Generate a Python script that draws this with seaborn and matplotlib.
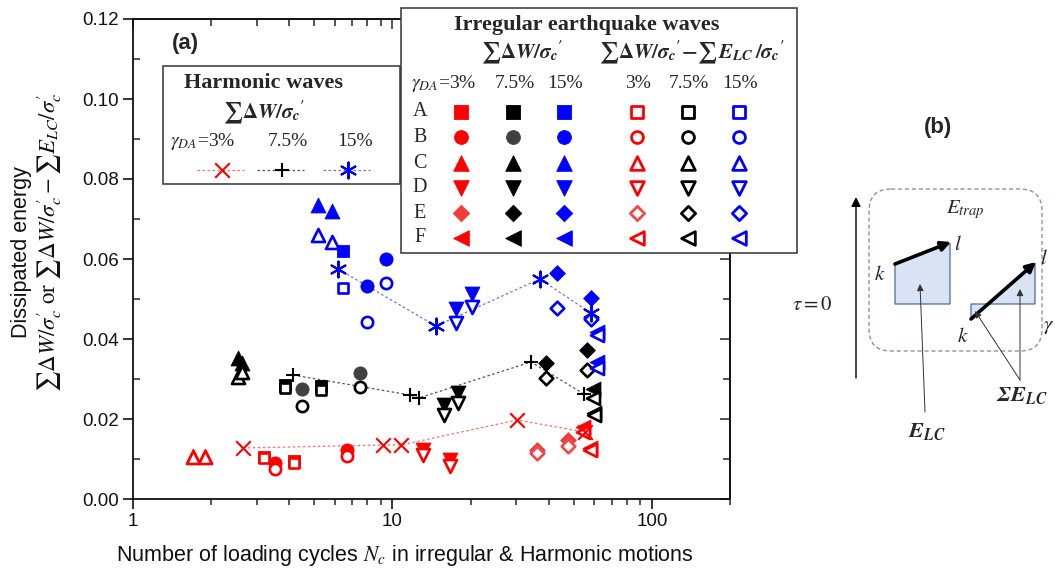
import numpy as np
import pandas as pd
import seaborn as sns
import matplotlib
matplotlib.use("Agg")
import matplotlib.pyplot as plt
from matplotlib.patches import Rectangle, FancyBboxPatch, Polygon
from matplotlib.ticker import (MultipleLocator, LogLocator, FuncFormatter,
                               FormatStrFormatter, NullFormatter)

# ---------------- data ----------------
# Harmonic waves (sum dW / sigma_c')
harm_N_3 = [2.65, 9.19, 10.8, 30.2, 55.2]
harm_E_3 = [0.01275, 0.0135, 0.0135, 0.01975, 0.01675]
harm_N_75 = [4.14, 11.7, 12.65, 34.2, 54.7]
harm_E_75 = [0.031, 0.026, 0.02525, 0.03425, 0.02625]
harm_N_15 = [6.17, 14.7, 37.0, 58.2]
harm_E_15 = [0.0575, 0.04325, 0.055, 0.0465]

# Irregular earthquake waves: total = sum dW/sc', net = sum dW/sc' - sum E_LC/sc'
irr3_wave = ["A", "A", "B", "B", "C", "C", "D", "D", "E", "E", "F", "F"]
irr3_N = [3.2, 4.17, 3.53, 6.68, 1.70, 1.89, 13.1, 16.7, 36.0, 47.5, 54.3, 57.7]
irr3_total = [0.0106, 0.0094, 0.0090, 0.01225, 0.0108, 0.0108, 0.01225, 0.0098,
              0.0123, 0.0148, 0.0180, 0.0128]
irr3_net = [0.01025, 0.0090, 0.0075, 0.01075, 0.0104, 0.0104, 0.0110, 0.00825,
            0.0115, 0.01325, 0.01675, 0.01225]

irr75_wave = ["A", "A", "B", "B", "C", "C", "D", "D", "E", "E", "F", "F"]
irr75_N = [3.85, 5.3, 4.48, 7.5, 2.55, 2.64, 15.8, 17.9, 39.0, 56.0, 59.5, 60.0]
irr75_total = [0.0285, 0.02825, 0.0275, 0.0315, 0.03525, 0.0340, 0.0235, 0.0265,
               0.0340, 0.0373, 0.0275, 0.0215]
irr75_net = [0.02775, 0.02725, 0.02325, 0.0280, 0.0305, 0.03175, 0.0210, 0.0240,
             0.03025, 0.0323, 0.0253, 0.0211]

irr15_wave = ["A", "B", "B", "C", "C", "D", "D", "E", "E", "F", "F"]
irr15_N = [6.45, 7.95, 9.44, 5.16, 5.85, 17.6, 20.2, 43.0, 58.0, 61.4, 61.4]
irr15_total = [0.0620, 0.05325, 0.0600, 0.0735, 0.0720, 0.0475, 0.05125, 0.0565,
               0.05025, 0.0418, 0.0343]
irr15_net = [0.05275, 0.04425, 0.0540, 0.0660, 0.06425, 0.0440, 0.0480, 0.04775,
             0.0450, 0.0410, 0.0328]

wave_names = ["A", "B", "C", "D", "E", "F"]
strain_labels = [r"$\gamma_{DA}$=3%", "7.5%", "15%"]
x_ticks = [1, 10, 100]

# ---------------- style ----------------
sns.set_theme(style="ticks")
plt.rcParams["font.family"] = ["Liberation Sans", "DejaVu Sans"]
plt.rcParams["mathtext.fontset"] = "stix"
plt.rcParams["axes.linewidth"] = 1.3

RED, BLACK, BLUE = "#ff0000", "#000000", "#0000ff"
fill_col = {
    "3": dict(A=RED, B=RED, C=RED, D=RED, E="#f03c3c", F=RED),
    "75": dict(A=BLACK, B="#404040", C=BLACK, D=BLACK, E=BLACK, F=BLACK),
    "15": dict(A=BLUE, B=BLUE, C=BLUE, D=BLUE, E=BLUE, F=BLUE),
}
open_col = {
    "3": dict(A=RED, B=RED, C=RED, D=RED, E="#f04848", F=RED),
    "75": dict(A=BLACK, B=BLACK, C=BLACK, D=BLACK, E=BLACK, F=BLACK),
    "15": dict(A=BLUE, B=BLUE, C=BLUE, D=BLUE, E=BLUE, F=BLUE),
}
marker_map = dict(A="s", B="o", C="^", D="v", E="D", F="<")
size_fill = dict(A=85, B=90, C=115, D=115, E=64, F=115)
size_open = dict(A=60, B=66, C=88, D=88, E=48, F=88)

W, H = 1055, 574
fig = plt.figure(figsize=(W / 100, H / 100), dpi=100)
ax = fig.add_axes([133 / W, 75 / H, 597 / W, 480 / H])
ax.set_xscale("log")

# ---------------- harmonic lines ----------------
harm = [(harm_N_3, harm_E_3, "#ff6a6a", RED, "x", 110),
        (harm_N_75, harm_E_75, "#555555", BLACK, "+", 105),
        (harm_N_15, harm_E_15, "#6a6aff", BLUE, (6, 2, 0), 130)]
for xs, ys, lc, mc, mk, ms in harm:
    sns.lineplot(x=xs, y=ys, color=lc, linestyle=(0, (2, 2)), linewidth=0.9,
                 errorbar=None, sort=False, ax=ax, zorder=2)

# ---------------- irregular points ----------------
groups = [("3", irr3_wave, irr3_N, irr3_total, irr3_net),
          ("75", irr75_wave, irr75_N, irr75_total, irr75_net),
          ("15", irr15_wave, irr15_N, irr15_total, irr15_net)]
for key, wv, n, tot, net in groups:
    df = pd.DataFrame({"wave": wv, "N": n, "total": tot, "net": net})
    for w in wave_names:
        sub = df[df["wave"] == w]
        if sub.empty:
            continue
        c = fill_col[key][w]
        sns.scatterplot(data=sub, x="N", y="total", marker=marker_map[w],
                        s=size_fill[w], color=c, edgecolor=c, linewidth=0.6,
                        ax=ax, zorder=3)
for key, wv, n, tot, net in groups:
    df = pd.DataFrame({"wave": wv, "N": n, "total": tot, "net": net})
    for w in wave_names:
        sub = df[df["wave"] == w]
        if sub.empty:
            continue
        c = open_col[key][w]
        sns.scatterplot(data=sub, x="N", y="net", marker=marker_map[w],
                        s=size_open[w], facecolor="white", edgecolor=c,
                        linewidth=1.9, ax=ax, zorder=4)

for xs, ys, lc, mc, mk, ms in harm:
    sns.scatterplot(x=xs, y=ys, marker=mk, s=ms, color=mc, linewidth=1.5,
                    ax=ax, zorder=5)

# ---------------- axes ----------------
ax.set_xlim(1, 200)
ax.set_ylim(0, 0.12)
ax.set_xlabel("")
ax.set_ylabel("")
ax.xaxis.set_major_locator(LogLocator(base=10, subs=(1.0,)))
ax.xaxis.set_minor_locator(LogLocator(base=10, subs=np.arange(2, 10)))
ax.xaxis.set_major_formatter(FuncFormatter(lambda v, p: f"{v:g}"))
ax.xaxis.set_minor_formatter(NullFormatter())
ax.yaxis.set_major_locator(MultipleLocator(0.02))
ax.yaxis.set_minor_locator(MultipleLocator(0.01))
ax.yaxis.set_major_formatter(FormatStrFormatter("%.2f"))
ax.tick_params(which="major", direction="out", length=7, width=1.2,
               labelsize=13.5, pad=3, colors="#111111")
ax.tick_params(axis="y", which="minor", direction="in", length=5, width=1.1)
ax.tick_params(axis="x", which="minor", direction="out", length=4, width=1.1)
for s in ax.spines.values():
    s.set_color("#111111")

axt = ax.secondary_xaxis("top")
axt.xaxis.set_major_locator(LogLocator(base=10, subs=(1.0,)))
axt.xaxis.set_minor_locator(LogLocator(base=10, subs=np.arange(2, 10)))
axt.tick_params(which="both", direction="in", labeltop=False, width=1.1)
axt.tick_params(which="major", length=7)
axt.tick_params(which="minor", length=5)
axr = ax.secondary_yaxis("right")
axr.yaxis.set_major_locator(MultipleLocator(0.02))
axr.yaxis.set_minor_locator(MultipleLocator(0.01))
axr.tick_params(which="both", direction="in", labelright=False, width=1.1)
axr.tick_params(which="major", length=7)
axr.tick_params(which="minor", length=5)

fig.text(405 / W, 1 - 556 / H,
         r"Number of loading cycles $N_c$ in irregular & Harmonic motions",
         ha="center", va="center", fontsize=15.5, color="#111111")
fig.text(22 / W, 1 - 252 / H, "Dissipated energy", rotation=90,
         ha="center", va="center", fontsize=15.5, color="#111111")
fig.text(49 / W, 1 - 242 / H,
         r"$\sum\Delta W/\sigma_c'$ or $\sum\Delta W/\sigma_c' - \sum E_{LC}/\sigma_c'$",
         rotation=90, ha="center", va="center", fontsize=16.5,
         family="STIXGeneral", color="#111111")

# ---------------- overlay (legends + panel b) ----------------
ov = fig.add_axes([0, 0, 1, 1], zorder=10)
ov.set_xlim(0, W)
ov.set_ylim(H, 0)
ov.axis("off")
ov.patch.set_alpha(0)

ov.text(185, 43, "(a)", fontsize=16, fontweight="bold", ha="center", va="center")

SERIF = "Liberation Serif"
# Harmonic legend
ov.add_patch(Rectangle((163, 66), 237, 118, fc="white", ec="#333333", lw=1.1))
ov.text(264, 83, "Harmonic waves", family=SERIF, fontweight="bold",
        fontsize=16, ha="center", va="center")
ov.text(264, 112, r"$\mathbf{\sum\Delta}\mathbfit{W}\mathbf{/}\boldsymbol{\sigma}_\mathbfit{c}\mathbf{'}$",
        fontsize=15, ha="center", va="center")
h_cols = [203, 288, 355]
h_mk = [222, 282, 348]
for i, (xs, ys, lc, mc, mk, ms) in enumerate(harm):
    ov.text(h_cols[i], 142, strain_labels[i], family=SERIF, fontsize=14,
            ha="center", va="center")
    ov.plot([h_mk[i] - 25, h_mk[i] + 22], [170, 170], color=lc,
            linestyle=(0, (2, 2)), lw=0.9)
    ov.scatter([h_mk[i]], [170], marker=mk, s=ms, color=mc, linewidths=1.5,
               zorder=3)

# Irregular legend
ov.add_patch(Rectangle((401, 8), 396, 245, fc="white", ec="#333333", lw=1.1))
ov.text(587, 25, "Irregular earthquake waves", family=SERIF, fontweight="bold",
        fontsize=16, ha="center", va="center")
ov.text(522, 52, r"$\mathbf{\sum\Delta}\mathbfit{W}\mathbf{/}\boldsymbol{\sigma}_\mathbfit{c}\mathbf{'}$",
        fontsize=15, ha="center", va="center")
ov.text(692, 52,
        r"$\mathbf{\sum\Delta}\mathbfit{W}\mathbf{/}\boldsymbol{\sigma}_\mathbfit{c}\mathbf{'} \mathbf{-} \mathbf{\sum}\,\mathbfit{E}_\mathbfit{LC}\,\mathbf{/}\boldsymbol{\sigma}_\mathbfit{c}\mathbf{'}$",
        fontsize=15, ha="center", va="center")
col_head_x = [444, 515, 565, 638, 689, 740]
col_head_t = [r"$\gamma_{DA}$=3%", "7.5%", "15%", "3%", "7.5%", "15%"]
for x, t in zip(col_head_x, col_head_t):
    ov.text(x, 83, t, family=SERIF, fontsize=14, ha="center", va="center")
mk_cols = [461, 513, 564, 637, 688, 739]
row_y = [112, 137, 163, 188, 213, 238]
keys = ["3", "75", "15"]
for r, w in enumerate(wave_names):
    ov.text(420, row_y[r], w, family=SERIF, fontsize=14.5, ha="center",
            va="center")
    for j, k in enumerate(keys):
        c = fill_col[k][w]
        ov.scatter([mk_cols[j]], [row_y[r]], marker=marker_map[w],
                   s=size_fill[w] * 1.1, color=c, edgecolors=c, linewidths=0.6)
        c2 = open_col[k][w]
        ov.scatter([mk_cols[j + 3]], [row_y[r]], marker=marker_map[w],
                   s=size_open[w] * 1.1, facecolors="white", edgecolors=c2,
                   linewidths=2.0)

# Panel (b)
ov.text(938, 128, "(b)", fontsize=16, fontweight="bold", ha="center", va="center")
ov.add_patch(FancyBboxPatch((869, 189), 173, 162,
                            boxstyle="round,pad=0,rounding_size=22",
                            fc="none", ec="#8497b0", lw=1.0, ls=(0, (3, 2))))
ov.add_patch(Polygon([(895, 304), (895, 264), (950, 243), (950, 304)],
                     closed=True, fc="#dae3f3", ec="#4a6aa0", lw=0.9))
ov.add_patch(Polygon([(971, 304), (971, 319), (989, 304)],
                     closed=True, fc="#dae3f3", ec="#4a6aa0", lw=0.9))
ov.add_patch(Polygon([(989, 304), (1035, 263), (1035, 304)],
                     closed=True, fc="#dae3f3", ec="#4a6aa0", lw=0.9))
ov.annotate("", xy=(856, 197), xytext=(856, 378),
            arrowprops=dict(arrowstyle="-|>", lw=1.0, color="black",
                            mutation_scale=14, shrinkA=0, shrinkB=0))
ov.annotate("", xy=(1058, 304), xytext=(850, 304),
            arrowprops=dict(arrowstyle="-|>", lw=1.0, color="black",
                            mutation_scale=14, shrinkA=0, shrinkB=0))
ov.annotate("", xy=(951, 242), xytext=(895, 264),
            arrowprops=dict(arrowstyle="-|>", lw=2.6, color="black",
                            mutation_scale=14, shrinkA=0, shrinkB=0))
ov.annotate("", xy=(1036, 262), xytext=(971, 319),
            arrowprops=dict(arrowstyle="-|>", lw=2.6, color="black",
                            mutation_scale=14, shrinkA=0, shrinkB=0))
ov.text(812, 304, r"$\tau = 0$", fontsize=15, ha="center", va="center")
ov.text(1043, 326, r"$\gamma$", fontsize=15, ha="left", va="center")
ov.text(965, 210, r"$E_{trap}$", fontsize=15, ha="center", va="center")
ov.text(880, 274, r"$k$", fontsize=15, ha="center", va="center")
ov.text(958, 244, r"$l$", fontsize=15, ha="center", va="center")
ov.text(963, 336, r"$k$", fontsize=15, ha="center", va="center")
ov.text(1044, 259, r"$l$", fontsize=15, ha="center", va="center")
ov.annotate("", xy=(920, 284), xytext=(925, 412),
            arrowprops=dict(arrowstyle="-|>", lw=0.7, color="#333333",
                            mutation_scale=10, shrinkA=0, shrinkB=0))
ov.text(927, 432, r"$\mathbfit{E}_\mathbfit{LC}$", fontsize=16, ha="center",
        va="center")
ov.annotate("", xy=(1020, 289), xytext=(1020, 380),
            arrowprops=dict(arrowstyle="-|>", lw=0.7, color="#333333",
                            mutation_scale=10, shrinkA=0, shrinkB=0))
ov.annotate("", xy=(975, 311), xytext=(1020, 380),
            arrowprops=dict(arrowstyle="-|>", lw=0.7, color="#333333",
                            mutation_scale=10, shrinkA=0, shrinkB=0))
ov.text(1022, 396, r"$\mathbfit{\Sigma E}_\mathbfit{LC}$", fontsize=16,
        ha="center", va="center")

fig.savefig("out.png", dpi=100)
